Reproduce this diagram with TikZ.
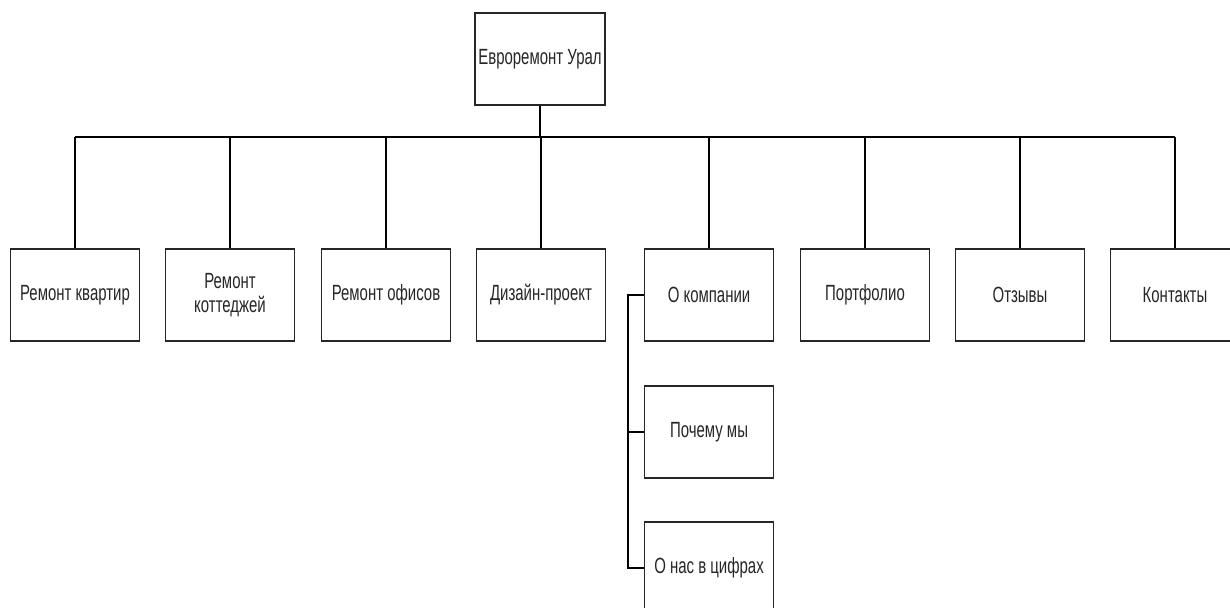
\documentclass[tikz,border=0pt]{standalone}
\usepackage{fontspec}
\setmainfont{Liberation Sans}[FakeStretch=0.68]
\tikzset{
  box/.style={draw=black!85, line width=1.6pt, fill=white, minimum width=129pt, minimum height=92pt, inner sep=0pt, align=center, text=black!85, font=\fontsize{22}{24}\selectfont},
  link/.style={draw=black, line width=1.6pt}
}
\begin{document}
\begin{tikzpicture}[x=1pt,y=-1pt]
\useasboundingbox (0,0) rectangle (1230,607);
\clip (0,0) rectangle (1230,607);
\fill[white] (0,0) rectangle (1230,607);
\coordinate (busy) at (0,137);
\coordinate (sx) at (628,0);
\node[box, minimum width=130pt] (top) at (540,59) {Евроремонт Урал};
\node[box] (b1) at (75,295) {Ремонт квартир};
\node[box] (b2) at (230,295) {Ремонт\\коттеджей};
\node[box] (b3) at (386,295) {Ремонт офисов};
\node[box] (b4) at (541,295) {Дизайн-проект};
\node[box] (b5) at (709,295) {О компании};
\node[box] (b6) at (865,295) {Портфолио};
\node[box] (b7) at (1020,295) {Отзывы};
\node[box] (b8) at (1175,295) {Контакты};
\node[box] (s2) at (709,432) {Почему мы};
\node[box] (s3) at (709,568) {О нас в цифрах};
\draw[link] (top.south) -- (top.south |- busy);
\draw[link] (b1.north |- busy) -- (b8.north |- busy);
\foreach \n in {b1,b2,b3,b4,b5,b6,b7,b8}{
  \draw[link] (\n.north) -- (\n.north |- busy);
}
\draw[link] (b5.west) -- (b5.west -| sx) -- (s3.west -| sx) -- (s3.west);
\draw[link] (s2.west -| sx) -- (s2.west);
\end{tikzpicture}
\end{document}
